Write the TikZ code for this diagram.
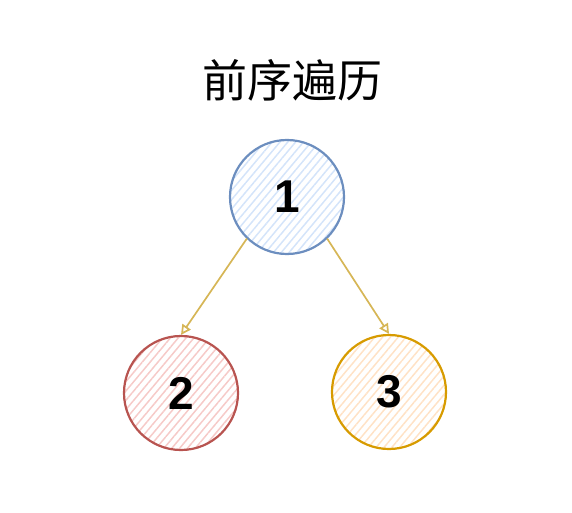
\documentclass[tikz,border=0pt]{standalone}
\usepackage{fontspec}
\setmainfont{Liberation Sans}
\newfontfamily\cjk{Noto Sans CJK SC}
\usepackage{xcolor}
\usetikzlibrary{patterns.meta, arrows.meta}

\definecolor{blueline}{HTML}{6C8EBF}
\definecolor{bluefill}{HTML}{D4E4FA}
\definecolor{redline}{HTML}{B85450}
\definecolor{redfill}{HTML}{F6CAC8}
\definecolor{goldline}{HTML}{D79B00}
\definecolor{goldfill}{HTML}{FFE2C6}
\definecolor{arrowline}{HTML}{D6B656}

\tikzset{
  treenode/.style={circle, minimum size=114pt, inner sep=0pt, line width=2.2pt,
    font=\fontsize{46}{50}\selectfont\bfseries},
  hatch/.style={pattern={Lines[angle=50, distance=6pt, line width=1.5pt]}, pattern color=#1},
  edge/.style={draw=arrowline, line width=1.7pt, -{Triangle[open, length=10pt, width=10pt]}}
}

\begin{document}
\begin{tikzpicture}[x=1pt, y=-1pt]
  \useasboundingbox (0,0) rectangle (572,513);
  \node[font=\cjk\fontsize{45}{48}\selectfont] (title) at (292,80) {前序遍历};
  \node[treenode, draw=blueline, hatch=bluefill] (n1) at (287,197) {1};
  \node[treenode, draw=redline, hatch=redfill] (n2) at (181,393) {2};
  \node[treenode, draw=goldline, hatch=goldfill] (n3) at (389,392) {3};
  \draw[edge] (n1.226) -- (n2.north);
  \draw[edge] (n1.314) -- (n3.north);
\end{tikzpicture}
\end{document}
